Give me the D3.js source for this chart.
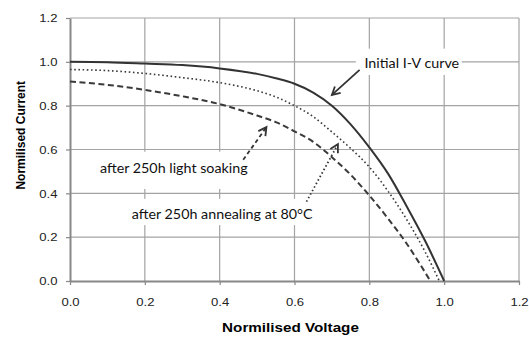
<!DOCTYPE html>
<html>
<head>
<script src="https://d3js.org/d3.v7.min.js"></script>
<style type="text/css">
  body { margin: 0; background: #fff; }
  .tick text { font-family: "Liberation Sans", Arial, sans-serif; font-size: 11.5px; fill: #222; }
  .title { font-family: "Liberation Sans", Arial, sans-serif; font-size: 12px; font-weight: bold; fill: #000; }
  .note { font-family: Lato, "Open Sans", sans-serif; font-size: 13px; fill: #111; }
</style>
</head>
<body>
<script type="text/javascript">

// values
var voltage = [0, 0.1, 0.2, 0.3, 0.4, 0.5, 0.55, 0.6, 0.65, 0.7, 0.75, 0.8, 0.85, 0.9, 0.95, 1.0];
var initialIV = [1.0, 0.998, 0.992, 0.985, 0.97, 0.945, 0.925, 0.9, 0.86, 0.8, 0.715, 0.61, 0.49, 0.34, 0.18, 0.0];

var annealV = [0, 0.1, 0.2, 0.3, 0.4, 0.5, 0.55, 0.6, 0.65, 0.7, 0.75, 0.8, 0.85, 0.9, 0.95, 0.987];
var annealI = [0.965, 0.96, 0.947, 0.928, 0.905, 0.868, 0.84, 0.8, 0.75, 0.68, 0.605, 0.52, 0.41, 0.28, 0.13, 0.0];

var soakV = [0, 0.1, 0.2, 0.3, 0.4, 0.5, 0.55, 0.6, 0.65, 0.7, 0.75, 0.8, 0.85, 0.9, 0.963];
var soakI = [0.91, 0.895, 0.872, 0.843, 0.807, 0.755, 0.725, 0.683, 0.635, 0.565, 0.485, 0.39, 0.285, 0.17, 0.0];

var xTicks = [0, 0.2, 0.4, 0.6, 0.8, 1.0, 1.2];
var yTicks = [0, 0.2, 0.4, 0.6, 0.8, 1.0, 1.2];

var margin = {top: 18, bottom: 57, left: 70, right: 10};
var width = 529 - margin.left - margin.right;
var height = 338 - margin.top - margin.bottom;

// the reference text looks stretched sideways
var stretch = 1.1;

var svg = d3.select("body").append("svg")
    .attr("width", 529)
    .attr("height", 338)
  .append("g")
    .attr("transform", "translate(" + margin.left + "," + margin.top + ")");

var x = d3.scaleLinear().domain([0, 1.2]).range([0, width]);
var y = d3.scaleLinear().domain([0, 1.2]).range([height, 0]);

// gridlines
svg.append("g").selectAll("line.gx")
    .data(xTicks.slice(1))
  .enter().append("line")
    .attr("x1", function(d) { return x(d); })
    .attr("x2", function(d) { return x(d); })
    .attr("y1", 0).attr("y2", height)
    .attr("stroke", "#a3a3a3").attr("stroke-width", 1.2);

svg.append("g").selectAll("line.gy")
    .data(yTicks.slice(1))
  .enter().append("line")
    .attr("x1", 0).attr("x2", width)
    .attr("y1", function(d) { return y(d); })
    .attr("y2", function(d) { return y(d); })
    .attr("stroke", "#a3a3a3").attr("stroke-width", 1.2);

// axes
var xAxis = svg.append("g")
    .attr("transform", "translate(0," + height + ")")
    .call(d3.axisBottom(x).tickValues(xTicks).tickFormat(d3.format(".1f")).tickSizeInner(4).tickSizeOuter(0).tickPadding(13));
var yAxis = svg.append("g")
    .call(d3.axisLeft(y).tickValues(yTicks).tickFormat(d3.format(".1f")).tickSizeInner(4).tickSizeOuter(0).tickPadding(7));

[xAxis, yAxis].forEach(function(a) {
  a.select(".domain").attr("stroke", "#888").attr("stroke-width", 2);
  a.selectAll(".tick line").attr("stroke", "#888").attr("stroke-width", 1.2);
  a.selectAll(".tick text").attr("transform", "scale(1.14,1)");
});

// label boxes (drawn before curves so curves pass over them)
function noteBox(x0, y0, x1, y1) {
  svg.append("rect")
    .attr("x", x(x0)).attr("y", y(y0))
    .attr("width", x(x1) - x(x0)).attr("height", y(y1) - y(y0))
    .attr("fill", "#fff");
}
noteBox(0.764, 1.06, 1.047, 0.94);
noteBox(0.067, 0.59, 0.48, 0.42);
noteBox(0.149, 0.375, 0.646, 0.255);

// curves
var line = d3.line()
    .x(function(d) { return x(d[0]); })
    .y(function(d) { return y(d[1]); })
    .curve(d3.curveMonotoneX);

svg.append("path")
    .datum(d3.zip(soakV, soakI))
    .attr("d", line)
    .attr("fill", "none").attr("stroke", "#3a3a3a").attr("stroke-width", 2)
    .attr("stroke-dasharray", "6,3.5");

svg.append("path")
    .datum(d3.zip(annealV, annealI))
    .attr("d", line)
    .attr("fill", "none").attr("stroke", "#3a3a3a").attr("stroke-width", 1.6)
    .attr("stroke-dasharray", "1.6,2.6");

svg.append("path")
    .datum(d3.zip(voltage, initialIV))
    .attr("d", line)
    .attr("fill", "none").attr("stroke", "#333").attr("stroke-width", 2);

// annotations
function note(v, i, txt) {
  svg.append("text").attr("class", "note")
    .attr("transform", "translate(" + x(v) + "," + y(i) + ") scale(" + stretch + ",1)")
    .text(txt);
}
note(0.787, 0.97, "Initial I-V curve");
note(0.08, 0.495, "after 250h light soaking");
note(0.165, 0.283, "after 250h annealing at 80°C");

function arrow(v0, i0, v1, i1, dash) {
  var ax = x(v0), ay = y(i0), bx = x(v1), by = y(i1);
  var ang = Math.atan2(by - ay, bx - ax);
  var g = svg.append("g").attr("stroke", "#333").attr("stroke-width", 1.8).attr("fill", "none");
  g.append("line").attr("x1", ax).attr("y1", ay).attr("x2", bx).attr("y2", by)
    .attr("stroke-dasharray", dash);
  var len = 9, spread = 0.5;
  g.append("path")
    .attr("d", "M" + (bx - len * Math.cos(ang - spread)) + "," + (by - len * Math.sin(ang - spread)) +
               "L" + bx + "," + by +
               "L" + (bx - len * Math.cos(ang + spread)) + "," + (by - len * Math.sin(ang + spread)));
}
arrow(0.774, 0.963, 0.700, 0.849, null);
arrow(0.463, 0.553, 0.525, 0.702, "4,3");
arrow(0.632, 0.362, 0.716, 0.624, "1.5,2.5");

// axis titles
svg.append("text").attr("class", "title")
    .attr("text-anchor", "middle")
    .attr("transform", "translate(" + (width / 2 - 4) + "," + (height + 51) + ") scale(1.27,1)")
    .text("Normilised Voltage");
svg.append("text").attr("class", "title")
    .attr("text-anchor", "middle")
    .attr("transform", "translate(" + (-45) + "," + (y(0.665)) + ") rotate(-90)")
    .text("Normilised Current");

</script>
</body>
</html>
